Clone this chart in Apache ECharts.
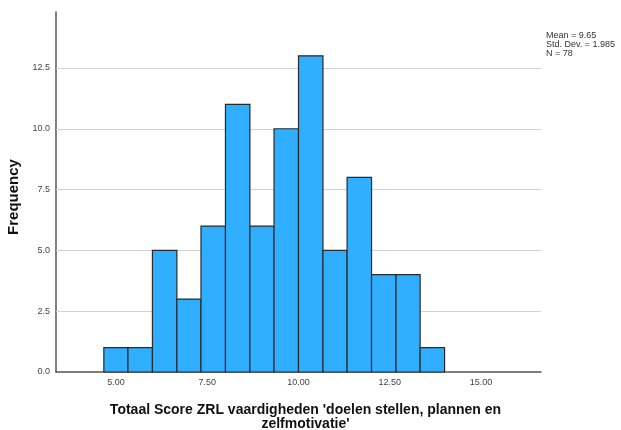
<!DOCTYPE html>
<html>
<head>
<meta charset="utf-8">
<script src="https://cdn.jsdelivr.net/npm/echarts@6/dist/echarts.min.js"></script>
<style>
  html, body { margin: 0; padding: 0; background: #fff; }
  #chart { width: 621px; height: 430px; }
</style>
</head>
<body>
<div id="chart"></div>
<script>
// histogram bins (left edge, right edge) and counts
var binStart = [4.67, 5.33, 6.00, 6.67, 7.33, 8.00, 8.67, 9.33, 10.00, 10.67, 11.33, 12.00, 12.67, 13.33];
var binEnd   = [5.33, 6.00, 6.67, 7.33, 8.00, 8.67, 9.33, 10.00, 10.67, 11.33, 12.00, 12.67, 13.33, 14.00];
var counts   = [1, 1, 5, 3, 6, 11, 6, 10, 13, 5, 8, 4, 4, 1];

var xTicks = [5, 7.5, 10, 12.5, 15];
var yTicks = [0, 2.5, 5, 7.5, 10, 12.5];
var gridValues = [2.5, 5, 7.5, 10, 12.5];
var statsLines = ['Mean = 9.65', 'Std. Dev. = 1.985', 'N = 78'];

var xTitle = "Totaal Score ZRL vaardigheden 'doelen stellen, plannen en\nzelfmotivatie'";

var chart = echarts.init(document.getElementById('chart'));

var data = counts.map(function (c, i) { return [binStart[i], binEnd[i], c]; });

chart.setOption({
    animation: false,
    textStyle: { fontFamily: 'Liberation Sans, Arial, sans-serif' },
    grid: { left: 56, right: 80, top: 12, bottom: 58, outerBoundsMode: 'none' },
    xAxis: {
        type: 'value',
        min: 3.36,
        max: 16.64,
        name: xTitle,
        nameLocation: 'middle',
        nameGap: 31,
        nameTextStyle: { fontSize: 14, fontWeight: 'bold', color: '#111', lineHeight: 14, padding: [0, 0, 0, 14] },
        axisLine: { show: true, lineStyle: { color: '#555', width: 1.5 } },
        axisTick: { show: false },
        splitLine: { show: false },
        axisLabel: {
            customValues: xTicks,
            fontSize: 9,
            color: '#444',
            margin: 6,
            formatter: function (v) { return v.toFixed(2); }
        }
    },
    yAxis: {
        type: 'value',
        min: 0,
        max: 14.8,
        name: 'Frequency',
        nameLocation: 'middle',
        nameGap: 31,
        nameTextStyle: { fontSize: 15, fontWeight: 'bold', color: '#111', padding: [0, 10, 0, 0] },
        axisLine: { show: true, lineStyle: { color: '#555', width: 1.5 } },
        axisTick: { show: false },
        splitLine: { show: false },
        axisLabel: {
            customValues: yTicks,
            fontSize: 9,
            color: '#444',
            margin: 6,
            formatter: function (v) { return v.toFixed(1); }
        }
    },
    graphic: [{
        type: 'text',
        left: 546,
        top: 31,
        style: {
            text: statsLines.join('\n'),
            font: '9px Liberation Sans, Arial, sans-serif',
            lineHeight: 9,
            fill: '#333'
        }
    }],
    series: [{
        type: 'custom',
        data: data,
        encode: { x: [0, 1], y: 2 },
        z: 3,
        renderItem: function (params, api) {
            var p0 = api.coord([api.value(0), api.value(2)]);
            var p1 = api.coord([api.value(1), 0]);
            return {
                type: 'rect',
                shape: { x: p0[0], y: p0[1], width: p1[0] - p0[0], height: p1[1] - p0[1] },
                style: { fill: '#30aeff', stroke: '#2a2a2a', lineWidth: 1.2 }
            };
        },
        markLine: {
            silent: true,
            symbol: 'none',
            z: 1,
            label: { show: false },
            lineStyle: { color: '#d2d2d2', width: 1.2, type: 'solid' },
            data: gridValues.map(function (v) { return { yAxis: v }; })
        }
    }]
});
</script>
</body>
</html>
